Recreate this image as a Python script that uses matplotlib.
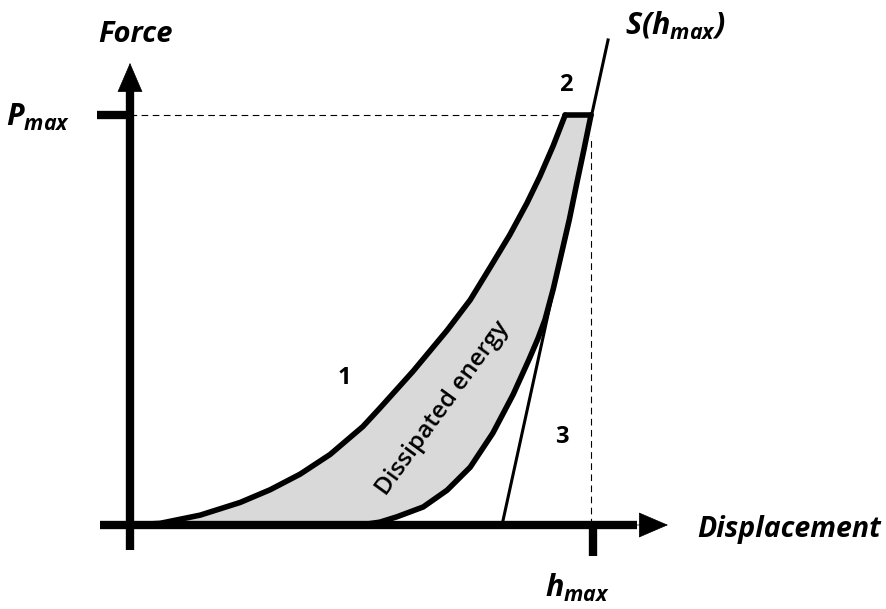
import matplotlib
matplotlib.use("Agg")
import matplotlib.pyplot as plt

plt.rcParams['font.family'] = ['Open Sans', 'DejaVu Sans']
plt.rcParams['mathtext.fontset'] = 'custom'
plt.rcParams['mathtext.it'] = 'Open Sans:italic:bold'
plt.rcParams['mathtext.rm'] = 'Open Sans:italic:bold'

# loading curve (fraction of h_max, fraction of P_max)
load_h = [0.0, 0.065, 0.152, 0.239, 0.304, 0.369, 0.434, 0.505, 0.542, 0.614,
          0.688, 0.738, 0.781, 0.824, 0.861, 0.889, 0.918, 0.944]
load_P = [0.0, 0.004, 0.024, 0.055, 0.086, 0.124, 0.172, 0.240, 0.285, 0.375,
          0.475, 0.549, 0.628, 0.708, 0.785, 0.850, 0.925, 1.0]

# hold at maximum load
hold_h = [0.944, 1.0]
hold_P = [1.0, 1.0]

# unloading curve
unload_h = [1.0, 0.984, 0.970, 0.953, 0.938, 0.918, 0.900, 0.885, 0.866, 0.831,
            0.787, 0.738, 0.688, 0.636, 0.579, 0.542, 0.50]
unload_P = [1.0, 0.912, 0.838, 0.745, 0.672, 0.575, 0.500, 0.455, 0.405, 0.318,
            0.224, 0.141, 0.085, 0.044, 0.020, 0.007, 0.0]

# contact stiffness tangent S(h_max)
tangent_h = [0.807, 1.037]
tangent_P = [0.0, 1.183]

fig = plt.figure(figsize=(8.87, 6.09), dpi=100)
ax = fig.add_axes([0, 0, 1, 1])
ax.set_xlim(-130 / 461, 757 / 461)
ax.set_ylim(-84 / 410, 525 / 410)
ax.axis('off')

# dissipated energy area
fill_h = load_h + hold_h + unload_h
fill_P = load_P + hold_P + unload_P
ax.fill(fill_h, fill_P, color='#d9d9d9', lw=0, zorder=1)

# guide lines
ax.plot([0, 1.0], [1.0, 1.0], color='k', lw=0.8, ls=(0, (6, 4)), zorder=2)
ax.plot([1.0, 1.0], [0, 0.95], color='k', lw=0.8, ls=(0, (6, 4)), zorder=2)

# curves
curve = dict(color='k', lw=4, solid_capstyle='round', solid_joinstyle='round', zorder=3)
ax.plot(load_h, load_P, **curve)
ax.plot(hold_h, hold_P, **curve)
ax.plot(unload_h, unload_P, **curve)
ax.plot(tangent_h, tangent_P, color='k', lw=2.2, zorder=3)

# axes with arrows
ax.plot([0, 0], [-0.061, 1.06], color='k', lw=6, solid_capstyle='butt', zorder=4)
ax.plot([-0.065, 1.10], [0, 0], color='k', lw=6, solid_capstyle='butt', zorder=4)
head = dict(arrowstyle='-|>,head_length=1.0,head_width=0.43', mutation_scale=20,
            lw=0.5, fc='k', ec='k', shrinkA=0, shrinkB=0)
ax.annotate('', xy=(0, 1.127), xytext=(0, 1.05), arrowprops=head, zorder=4)
ax.annotate('', xy=(1.167, 0), xytext=(1.09, 0), arrowprops=head, zorder=4)

# P_max and h_max ticks
ax.plot([-0.072, 0], [1.0, 1.0], color='k', lw=6, solid_capstyle='butt', zorder=4)
ax.plot([1.004, 1.004], [0, -0.076], color='k', lw=6, solid_capstyle='butt', zorder=4)

# labels
lab = dict(fontweight='bold', fontstyle='italic')
ax.text(-0.069, 1.178, 'Force', ha='left', va='baseline', fontsize=21, **lab)
ax.text(1.230, -0.029, 'Displacement', ha='left', va='baseline', fontsize=20.5, **lab)
ax.text(-0.130, 0.973, r'$P_{max}$', ha='right', va='baseline', fontsize=22)
ax.text(0.900, -0.176, r'$h_{max}$', ha='left', va='baseline', fontsize=22)
ax.text(1.074, 1.195, r'$S(h_{max})$', ha='left', va='baseline', fontsize=22)

num = dict(fontweight='bold', fontsize=17, ha='center', va='center')
ax.text(0.466, 0.359, '1', **num)
ax.text(0.946, 1.073, '2', **num)
ax.text(0.937, 0.215, '3', **num)

ax.text(0.679, 0.285, 'Dissipated energy', rotation=54, rotation_mode='anchor',
        ha='center', va='center', fontsize=17.5, fontweight='semibold', zorder=5)

fig.savefig('out.png', dpi=100)
